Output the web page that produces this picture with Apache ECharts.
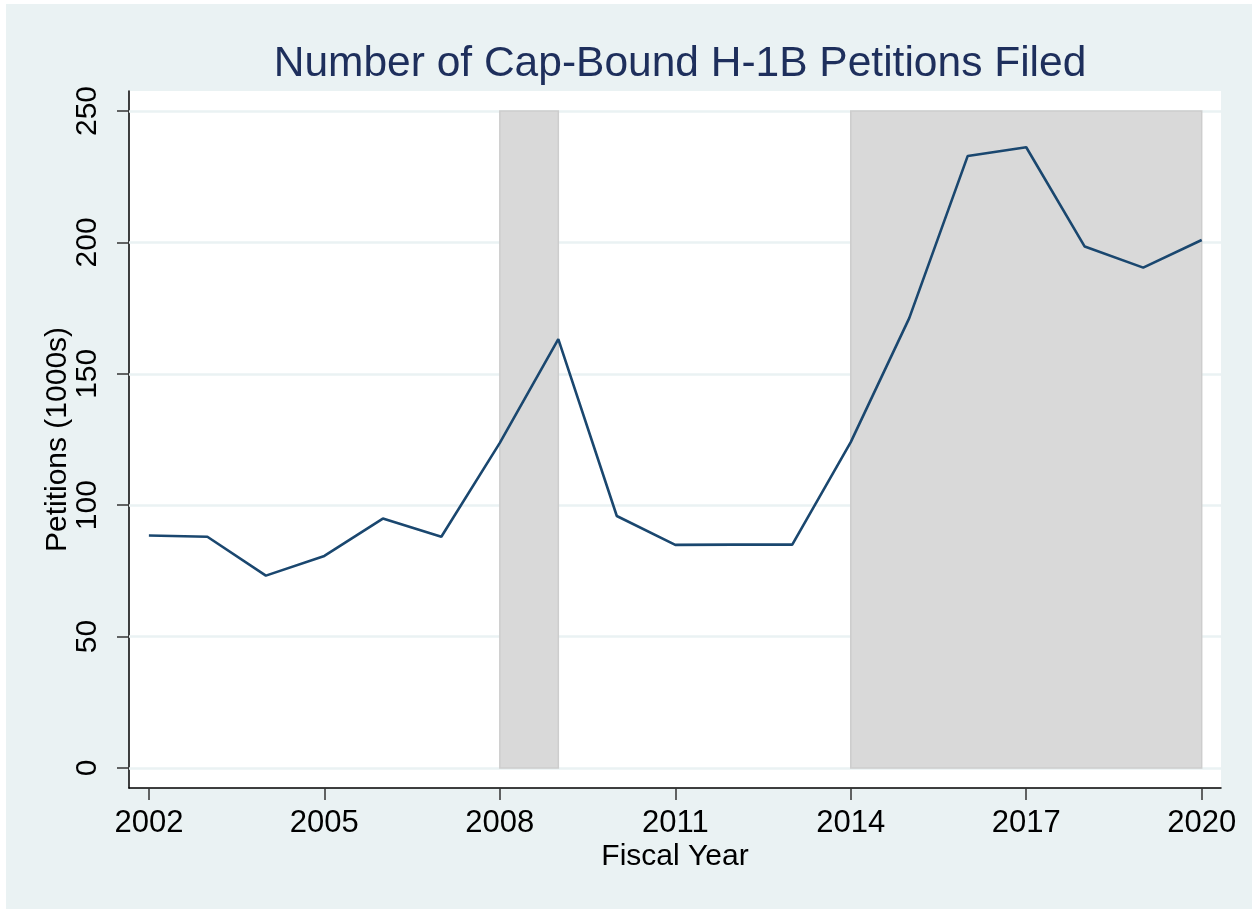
<!DOCTYPE html>
<html>
<head>
<meta charset="utf-8">
<title>Number of Cap-Bound H-1B Petitions Filed</title>
<script src="https://cdn.jsdelivr.net/npm/echarts@6/dist/echarts.min.js"></script>
<style>
  html, body { margin: 0; padding: 0; background: #ffffff; }
  #H1BChart { width: 1252px; height: 909px; }
</style>
</head>
<body>
<div id="H1BChart"></div>
<script>
// fiscal years and petitions (thousands)
const years = [2002, 2003, 2004, 2005, 2006, 2007, 2008, 2009, 2010, 2011,
               2012, 2013, 2014, 2015, 2016, 2017, 2018, 2019, 2020];
const petitions = [88.5, 88.0, 73.2, 80.7, 94.9, 88.0, 123.7, 163.2, 95.9, 84.9,
                   85.0, 85.0, 124.0, 171.2, 232.9, 236.2, 198.4, 190.4, 200.9];
// shaded periods
const shadedPeriods = [[2008, 2009], [2014, 2020]];
const xTicks = [2002, 2005, 2008, 2011, 2014, 2017, 2020];
const yTicks = [0, 50, 100, 150, 200, 250];

const bg = '#eaf2f3';
const font = 'Arial, "Liberation Sans", sans-serif';

const myChart = echarts.init(document.getElementById('H1BChart'));

const option = {
  backgroundColor: '#ffffff',
  animation: false,
  graphic: [
    {
      type: 'rect', z: -20, silent: true,
      shape: { x: 6, y: 4, width: 1246, height: 905 },
      style: { fill: bg }
    },
    {
      type: 'rect', z: -10, silent: true,
      shape: { x: 129, y: 91, width: 1092, height: 697 },
      style: { fill: '#ffffff' }
    }
  ],
  title: {
    text: 'Number of Cap-Bound H-1B Petitions Filed',
    left: 675,
    top: 38,
    textAlign: 'center',
    textStyle: { fontFamily: font, fontSize: 42.5, fontWeight: 'normal', color: '#1e2f5c' }
  },
  grid: { left: 129, right: 31, top: 91, bottom: 121 },
  xAxis: {
    type: 'value',
    min: 2002 - 0.34,
    max: 2020 + 0.33,
    name: 'Fiscal Year',
    nameLocation: 'middle',
    nameGap: 54,
    nameMoveOverlap: false,
    nameTextStyle: { fontFamily: font, fontSize: 30, color: '#000' },
    axisLine: { show: true, onZero: false, lineStyle: { color: '#000', width: 1.5 } },
    axisTick: { show: true, length: 12, customValues: xTicks, lineStyle: { color: '#333', width: 1.5 } },
    axisLabel: {
      customValues: xTicks, margin: 20, fontFamily: font, fontSize: 31, color: '#000',
      formatter: v => String(Math.round(v))
    },
    splitLine: { show: false }
  },
  yAxis: {
    type: 'value',
    min: -7.6,
    max: 257.6,
    name: 'Petitions (1000s)',
    nameLocation: 'middle',
    nameGap: 56,
    nameMoveOverlap: false,
    nameTextStyle: { fontFamily: font, fontSize: 30, color: '#000' },
    axisLine: { show: true, onZero: false, lineStyle: { color: '#000', width: 1.5 } },
    axisTick: { show: true, length: 12, customValues: yTicks, lineStyle: { color: '#333', width: 1.5 } },
    axisLabel: { customValues: yTicks, rotate: 90, margin: 26, fontFamily: font, fontSize: 30, color: '#000' },
    splitLine: { show: false }
  },
  series: [
    {
      type: 'line',
      data: years.map((y, i) => [y, petitions[i]]),
      symbol: 'none',
      z: 5,
      lineStyle: { color: '#1a476f', width: 2.6 },
      markLine: {
        silent: true,
        symbol: 'none',
        label: { show: false },
        z: 1,
        lineStyle: { color: bg, width: 2.5, type: 'solid' },
        data: yTicks.map(v => ({ yAxis: v }))
      },
      markArea: {
        silent: true,
        z: 2,
        itemStyle: { color: '#d9d9d9', borderColor: '#cdcdcd', borderWidth: 1.5 },
        data: shadedPeriods.map(p => [{ xAxis: p[0], yAxis: 0 }, { xAxis: p[1], yAxis: 250 }])
      }
    }
  ]
};

myChart.setOption(option);
</script>
</body>
</html>
